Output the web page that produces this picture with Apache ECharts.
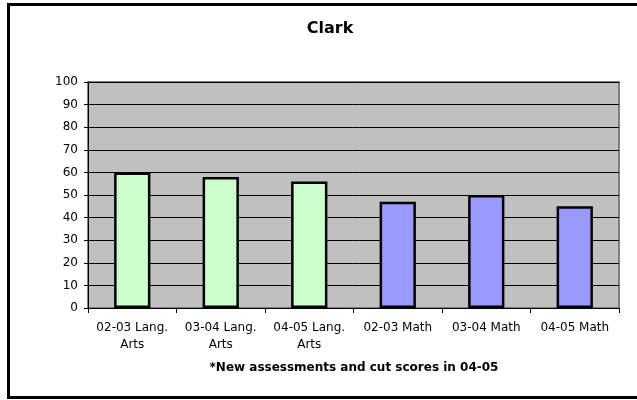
<!DOCTYPE html>
<html>
<head>
<meta charset="utf-8">
<script src="https://cdn.jsdelivr.net/npm/echarts@6/dist/echarts.min.js"></script>
<style>
  html, body { margin: 0; padding: 0; background: #fff; }
  #chart { width: 637px; height: 400px; }
</style>
</head>
<body>
<div id="chart"></div>
<script>
const categories = ['02-03 Lang. Arts', '03-04 Lang. Arts', '04-05 Lang. Arts', '02-03 Math', '03-04 Math', '04-05 Math'];
const scores = [60, 58, 56, 47, 50, 45];
const barColors = ['#ccffcc', '#ccffcc', '#ccffcc', '#9999ff', '#9999ff', '#9999ff'];
const yTicks = [0, 10, 20, 30, 40, 50, 60, 70, 80, 90, 100];

const font = 'DejaVu Sans, Verdana, sans-serif';

const chart = echarts.init(document.getElementById('chart'), null, { renderer: 'canvas' });

chart.setOption({
  animation: false,
  backgroundColor: '#fff',
  title: {
    text: 'Clark',
    left: 325,
    top: 16,
    textAlign: 'center',
    textStyle: { fontFamily: font, fontSize: 16, fontWeight: 'bold', color: '#000' }
  },
  graphic: [
    {
      type: 'rect',
      shape: { x: 8.5, y: 4.5, width: 700, height: 393 },
      style: { fill: 'none', stroke: '#000', lineWidth: 3 }
    },
    {
      type: 'text',
      x: 354,
      y: 368,
      style: {
        text: '*New assessments and cut scores in 04-05',
        font: 'bold 12px ' + font,
        fill: '#000',
        align: 'center',
        verticalAlign: 'middle'
      }
    }
  ],
  grid: {
    left: 88,
    right: 18,
    top: 82,
    bottom: 92,
    show: true,
    backgroundColor: '#c0c0c0',
    borderColor: '#808080',
    borderWidth: 2
  },
  xAxis: {
    type: 'category',
    data: categories,
    axisLine: { lineStyle: { color: '#000', width: 1 } },
    axisTick: { show: true, length: 5, lineStyle: { color: '#000' } },
    axisLabel: {
      interval: 0,
      margin: 11,
      lineHeight: 17,
      fontFamily: font,
      fontSize: 12,
      color: '#000',
      formatter: (v) => v.replace('Lang. ', 'Lang.\n')
    }
  },
  yAxis: {
    type: 'value',
    min: yTicks[0],
    max: yTicks[yTicks.length - 1],
    interval: 10,
    axisLine: { show: true, lineStyle: { color: '#000', width: 1 } },
    axisTick: { show: true, length: 4, lineStyle: { color: '#000' } },
    axisLabel: { margin: 10, fontFamily: font, fontSize: 12, color: '#000' },
    splitLine: { show: true, lineStyle: { color: '#000', width: 1 } }
  },
  series: [
    {
      type: 'bar',
      barWidth: '41%',
      data: scores.map((v, i) => ({
        value: v,
        itemStyle: { color: barColors[i], borderColor: '#000', borderWidth: 2.5 }
      }))
    }
  ]
});
</script>
</body>
</html>
